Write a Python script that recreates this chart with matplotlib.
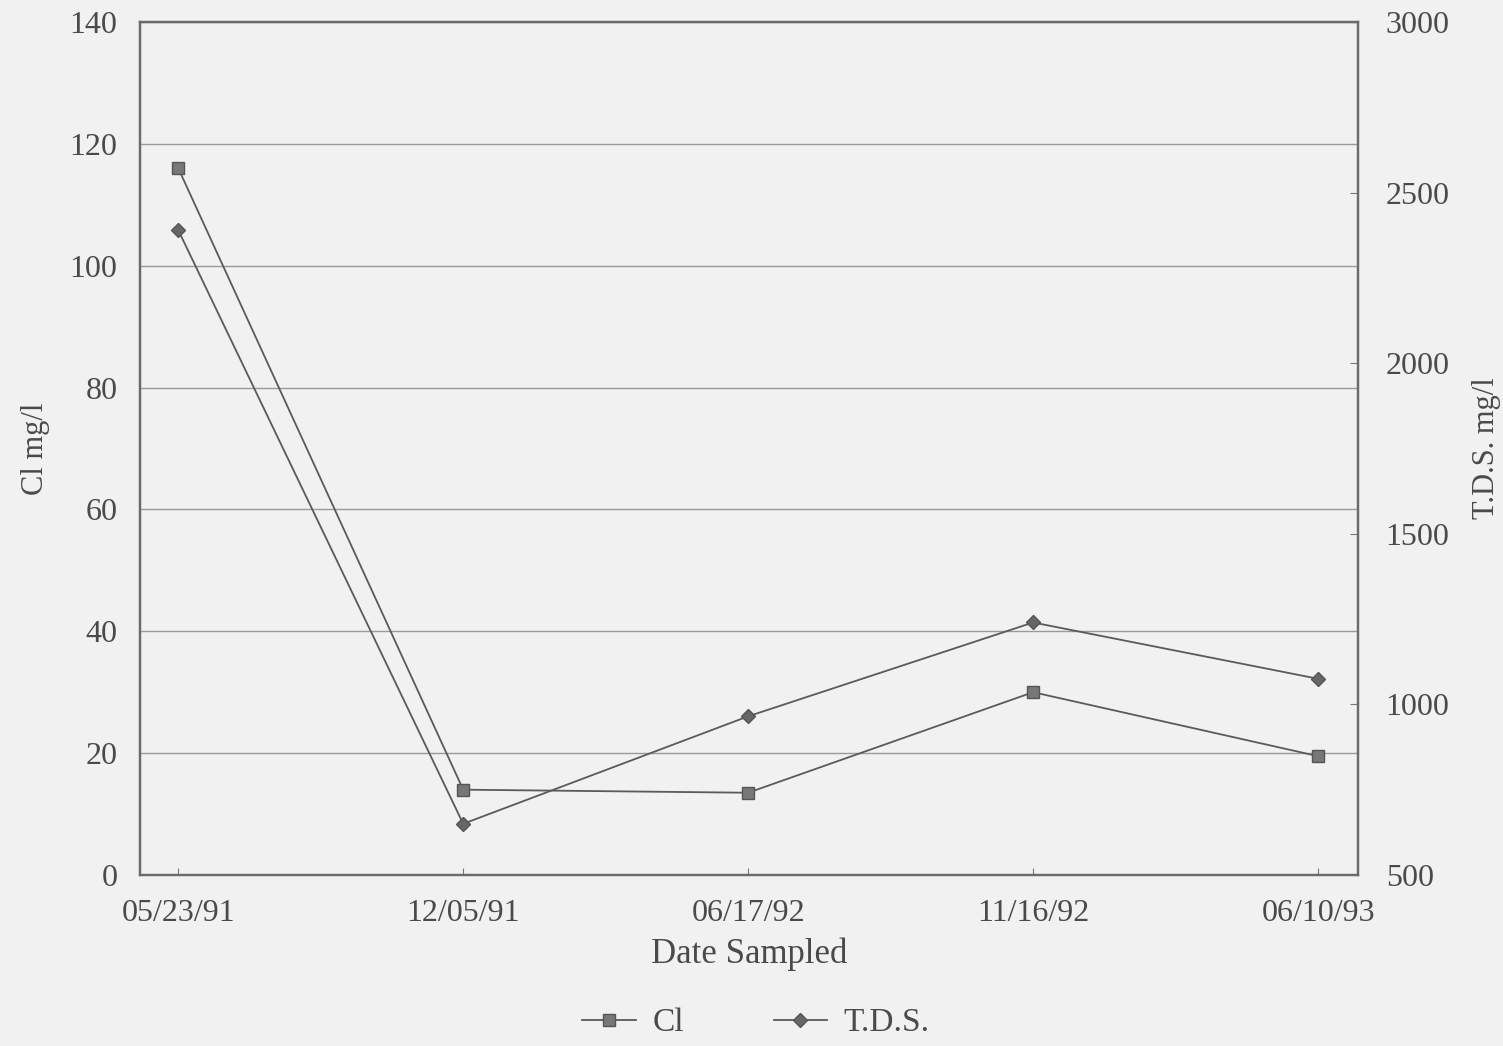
import matplotlib
matplotlib.use("Agg")
import matplotlib.pyplot as plt
from matplotlib.lines import Line2D

dates = ["05/23/91", "12/05/91", "06/17/92", "11/16/92", "06/10/93"]
cl_values = [116, 14, 13.5, 30, 19.5]
tds_values = [2390, 650, 965, 1240, 1075]
left_ticks = [0, 20, 40, 60, 80, 100, 120, 140]
right_ticks = [500, 1000, 1500, 2000, 2500, 3000]

plt.rcParams['font.family'] = ['Liberation Serif', 'DejaVu Serif']
txt = '#4a4a4a'
line_c = '#5a5a5a'
bg = '#f1f1f1'

fig = plt.figure(figsize=(15.03, 10.46), dpi=100, facecolor=bg)
ax = fig.add_axes([0.093, 0.1635, 0.8105, 0.8155], facecolor=bg)
ax2 = ax.twinx()

x = list(range(len(dates)))
ax.plot(x, cl_values, color=line_c, lw=1.3, marker='s', ms=9,
        mfc='#777777', mec='#555555', zorder=3)
ax2.plot(x, tds_values, color=line_c, lw=1.3, marker='D', ms=7,
         mfc='#666666', mec='#555555', zorder=3)

ax.set_xlim(-0.135, 4.14)
ax.set_ylim(0, 140)
ax2.set_ylim(500, 3000)
ax.set_yticks(left_ticks)
ax2.set_yticks(right_ticks)
ax.set_xticks(x)
ax.set_xticklabels(dates)

ax.yaxis.grid(True, color='#9a9a9a', lw=1.0)
ax.set_axisbelow(True)

for a in (ax, ax2):
    for s in a.spines.values():
        s.set_color('#6a6a6a')
        s.set_linewidth(1.6)

ax.tick_params(axis='y', length=0, labelsize=23, labelcolor=txt, pad=16)
ax.tick_params(axis='x', direction='in', length=5, color='#777777',
               labelsize=23, labelcolor=txt, pad=17)
ax2.tick_params(axis='y', direction='in', length=6, color='#777777',
                labelsize=23, labelcolor=txt, pad=20)

ax.set_xlabel("Date Sampled", fontsize=25, color=txt, labelpad=7)
ax.set_ylabel("Cl mg/l", fontsize=22, color=txt, labelpad=14)
ax2.set_ylabel("T.D.S. mg/l", fontsize=22, color=txt, labelpad=16)

handles = [
    Line2D([], [], color=line_c, lw=1.3, marker='s', ms=9, mfc='#777777', mec='#555555'),
    Line2D([], [], color=line_c, lw=1.3, marker='D', ms=7, mfc='#666666', mec='#555555'),
]
leg = fig.legend(handles, ["Cl", "T.D.S."], loc='center', bbox_to_anchor=(0.503, 0.022),
                 ncol=2, frameon=False, fontsize=24, columnspacing=2.7,
                 handlelength=1.6, handletextpad=0.5)
for t in leg.get_texts():
    t.set_color(txt)

fig.savefig("out.png", dpi=100, facecolor=bg)
